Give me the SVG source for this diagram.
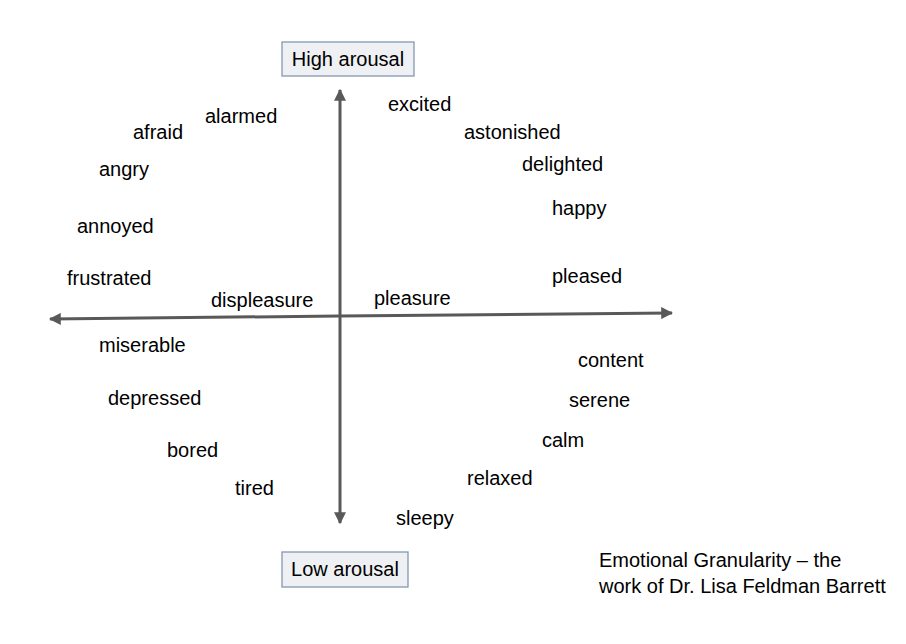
<svg xmlns="http://www.w3.org/2000/svg" width="906" height="644" viewBox="0 0 906 644">
<style>
.t{font-family:"Liberation Sans",Arial,sans-serif;font-size:20px;fill:#000}
.box{fill:#eef0f3;stroke:#8497b0;stroke-width:1.3}
.ax{stroke:#595959;stroke-width:3;fill:none}
</style>
<defs>
<marker id="ah" viewBox="0 0 10 10" refX="9" refY="5" markerWidth="4" markerHeight="4" orient="auto" markerUnits="strokeWidth">
<path d="M0,0 L10,5 L0,10 z" fill="#595959"/>
</marker>
</defs>
<rect width="906" height="644" fill="#fff"/>
<g id="connectors">
<line class="ax" x1="340" y1="320" x2="340" y2="90" marker-end="url(#ah)"/>
<line class="ax" x1="340" y1="320" x2="340" y2="523" marker-end="url(#ah)"/>
<line class="ax" x1="340" y1="316" x2="672" y2="313" marker-end="url(#ah)"/>
<line class="ax" x1="340" y1="316" x2="50" y2="319" marker-end="url(#ah)"/>
</g>
<g id="high"><rect class="box" x="282" y="42" width="132" height="34"/><text class="t" x="348" y="66" text-anchor="middle">High arousal</text></g>
<g id="low"><rect class="box" x="282" y="552" width="126" height="35"/><text class="t" x="345" y="576" text-anchor="middle">Low arousal</text></g>
<g id="excited"><text class="t" x="388" y="111">excited</text></g>
<g id="alarmed"><text class="t" x="205" y="123">alarmed</text></g>
<g id="afraid"><text class="t" x="133" y="139">afraid</text></g>
<g id="astonished"><text class="t" x="464" y="139">astonished</text></g>
<g id="angry"><text class="t" x="99" y="176">angry</text></g>
<g id="delighted"><text class="t" x="522" y="171">delighted</text></g>
<g id="happy"><text class="t" x="552" y="215">happy</text></g>
<g id="annoyed"><text class="t" x="77" y="233">annoyed</text></g>
<g id="frustrated"><text class="t" x="67" y="285">frustrated</text></g>
<g id="pleased"><text class="t" x="552" y="283">pleased</text></g>
<g id="displeasure"><text class="t" x="211" y="307">displeasure</text></g>
<g id="pleasure"><text class="t" x="374" y="305">pleasure</text></g>
<g id="miserable"><text class="t" x="99" y="352">miserable</text></g>
<g id="content"><text class="t" x="578" y="367">content</text></g>
<g id="depressed"><text class="t" x="108" y="405">depressed</text></g>
<g id="serene"><text class="t" x="569" y="407">serene</text></g>
<g id="bored"><text class="t" x="167" y="457">bored</text></g>
<g id="calm"><text class="t" x="542" y="447">calm</text></g>
<g id="relaxed"><text class="t" x="467" y="485">relaxed</text></g>
<g id="tired"><text class="t" x="235" y="495">tired</text></g>
<g id="sleepy"><text class="t" x="396" y="525">sleepy</text></g>
<g id="caption"><text class="t" x="599" y="567">Emotional Granularity – the</text><text class="t" x="599" y="593">work of Dr. Lisa Feldman Barrett</text></g>
</svg>
